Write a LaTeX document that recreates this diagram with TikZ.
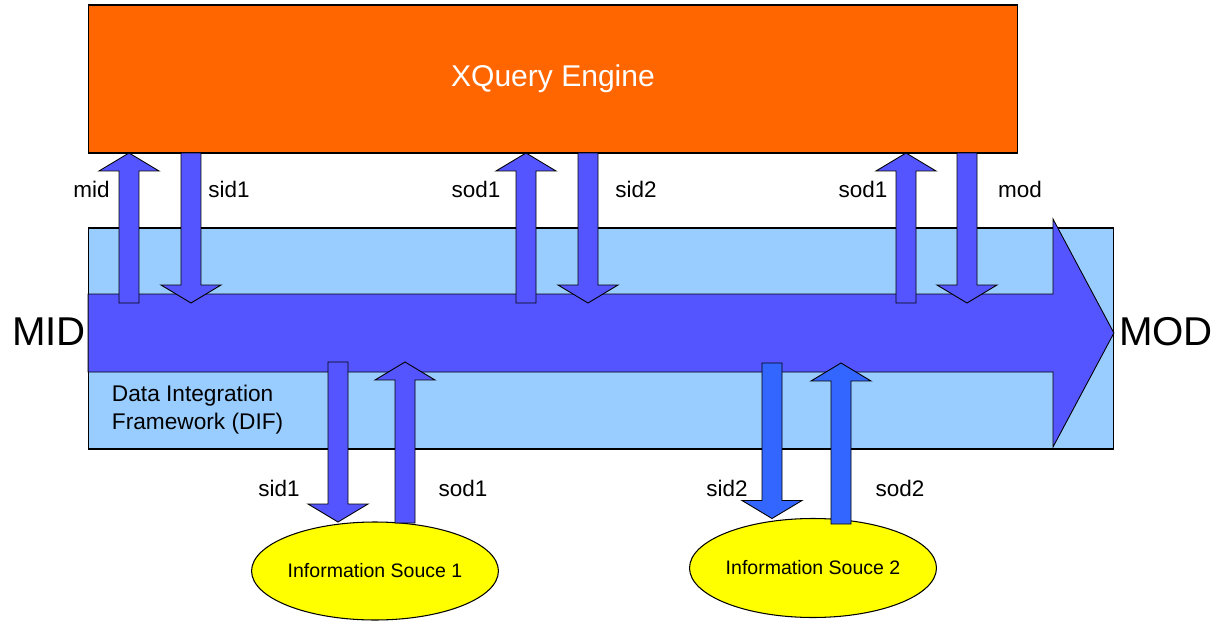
\documentclass[tikz,border=0pt]{standalone}
\usepackage{fontspec}
\setmainfont{Liberation Sans}
\usetikzlibrary{calc,shapes.geometric}

\definecolor{engineorange}{RGB}{255,102,0}
\definecolor{difblue}{RGB}{153,204,255}
\definecolor{flowblue}{RGB}{85,85,255}
\definecolor{srcblue}{RGB}{51,102,255}
\definecolor{srcyellow}{RGB}{255,255,0}

% Block arrow from #2 (tail) to #3 (tip): shaft 20, head 60 wide, head 18 long
\newcommand\blockarrow[3][]{%
  \coordinate (ba-base) at ($(#3)!0.36cm!(#2)$);
  \draw[blockarrow,#1]
    ($(#2)!0.2cm!90:(#3)$) -- ($(ba-base)!0.2cm!90:(#3)$)
    -- ($(ba-base)!0.6cm!90:(#3)$) -- (#3)
    -- ($(ba-base)!0.6cm!-90:(#3)$) -- ($(ba-base)!0.2cm!-90:(#3)$)
    -- ($(#2)!0.2cm!-90:(#3)$) -- cycle;
}

\begin{document}
\begin{tikzpicture}[x=0.02cm,y=-0.02cm,
  every node/.style={inner sep=0pt, outer sep=0pt},
  box/.style={draw=black, line width=0.6pt},
  blockarrow/.style={draw=black, line width=0.5pt, fill=flowblue, line join=miter},
  lbl/.style={font=\fontsize{12.8}{14}\selectfont},
  big/.style={font=\fontsize{22.9}{26}\selectfont},
  source/.style={ellipse, draw=black, line width=0.6pt, fill=srcyellow,
    font=\fontsize{11.1}{12}\selectfont},
]
\useasboundingbox (0,0) rectangle (1225,622);

% engine and integration framework
\node[box, fill=engineorange, minimum width=18.6cm, minimum height=2.96cm,
      text=white, font=\fontsize{17.1}{20}\selectfont] (engine) at (553,79) {XQuery Engine};
\node[box, fill=difblue, minimum width=20.52cm, minimum height=4.42cm] (dif) at (601,338.5) {};

% main data flow
\node[big] (mid-in) at (49,332) {MID};
\node[big] (mod-out) at (1166,332) {MOD};
\draw[blockarrow] (dif.west |- 0,294) -- (1053,294) -- (1053,219)
  -- (dif.east |- 0,333) -- (1053,447) -- (1053,372)
  -- (dif.west |- 0,372) -- cycle;

\node[anchor=west, align=left, font=\fontsize{12.9}{15.9}\selectfont] (dif-label)
  at (112,410) {Data Integration\\Framework (DIF)};

% information sources
\node[source, minimum width=4.88cm, minimum height=1.96cm] (src1) at (375,571) {Information Souce 1};
\node[source, minimum width=4.94cm, minimum height=1.98cm] (src2) at (813,568) {Information Souce 2};

% exchanges with the engine
\coordinate (a1) at (129,303);
\coordinate (a2) at (191,303);
\coordinate (a3) at (526,303);
\coordinate (a4) at (588,303);
\coordinate (a5) at (906,303);
\coordinate (a6) at (967,303);
\blockarrow{a1}{a1 |- engine.south}
\blockarrow{a2 |- engine.south}{a2}
\blockarrow{a3}{a3 |- engine.south}
\blockarrow{a4 |- engine.south}{a4}
\blockarrow{a5}{a5 |- engine.south}
\blockarrow{a6 |- engine.south}{a6}

% exchanges with the sources
\coordinate (b1) at (338,362);
\coordinate (b2) at (405,523);
\coordinate (b3) at (772,363);
\coordinate (b4) at (841,524);
\blockarrow{b1}{b1 |- src1.north}
\blockarrow{b2}{b2 |- 0,362}
\blockarrow[fill=srcblue]{b3}{b3 |- src2.north}
\blockarrow[fill=srcblue]{b4}{b4 |- 0,363}

% arrow labels
\node[lbl] (l-mid) at (91.5,189) {mid};
\node[lbl] (l-sid1) at (229,189) {sid1};
\node[lbl] (l-sod1) at (476,189) {sod1};
\node[lbl] (l-sid2) at (636,189) {sid2};
\node[lbl] (l-sod1b) at (863,189) {sod1};
\node[lbl] (l-mod) at (1020,189) {mod};
\node[lbl] (l-sid1b) at (279,488) {sid1};
\node[lbl] (l-sod1c) at (463,488) {sod1};
\node[lbl] (l-sid2b) at (727,488) {sid2};
\node[lbl] (l-sod2) at (900,488) {sod2};
\end{tikzpicture}
\end{document}
